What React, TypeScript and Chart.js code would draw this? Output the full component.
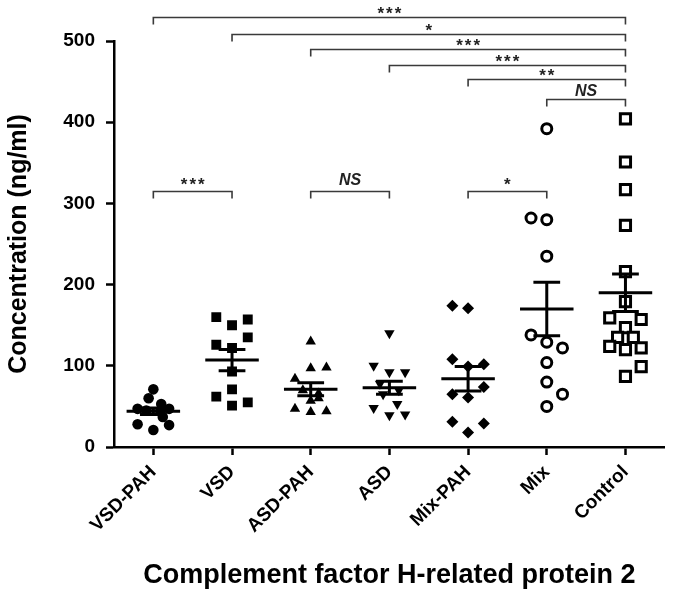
import { useEffect, useRef } from 'react';
import { Chart, registerables } from 'chart.js';

Chart.register(...registerables);

const categories = ['VSD-PAH', 'VSD', 'ASD-PAH', 'ASD', 'Mix-PAH', 'Mix', 'Control'];

const vsdPahValues = [71, 60, 53, 47, 47, 45, 44, 37, 28, 27, 21];
const vsdPahJitter = [0, -0.06, 0.1, -0.2, 0.2, -0.09, 0.09, 0.12, -0.2, 0.2, 0];

const vsdValues = [160, 157, 150, 135, 126, 122, 93, 71, 62, 55, 51];
const vsdJitter = [-0.2, 0.2, 0, 0.2, -0.2, 0, 0, 0, -0.2, 0.2, 0];

const asdPahValues = [130, 97, 98, 84, 70, 66, 60, 57, 47, 44, 43];
const asdPahJitter = [0, 0, 0.2, -0.2, -0.1, 0.1, 0.1, 0, -0.2, 0.2, 0];

const asdValues = [140, 100, 92, 92, 78, 70, 65, 53, 48, 39, 40];
const asdJitter = [0, -0.2, 0, 0.2, -0.12, 0.12, -0.08, 0.1, -0.2, 0, 0.2];

const mixPahValues = [174, 171, 108, 102, 99, 74, 65, 61, 31, 29, 18];
const mixPahJitter = [-0.2, 0, -0.2, 0.2, 0, 0.2, -0.2, 0, -0.2, 0.2, 0];

const mixValues = [392, 282, 280, 235, 138, 129, 122, 104, 80, 65, 50];
const mixJitter = [0, -0.2, 0, 0, -0.2, 0, 0.2, 0, 0, 0.2, 0];

const controlValues = [404, 351, 317, 273, 216, 179, 159, 157, 147, 135, 135, 124, 122, 120, 99, 87];
const controlJitter = [0, 0, 0, 0, 0, 0, -0.2, 0.2, 0, -0.1, 0.1, -0.2, 0.2, 0, 0.2, 0];

const means = [44, 107, 71, 73, 84, 170, 190];
const sems = [4, 13, 8, 8, 15, 33, 23];

const bracketFrom = [0, 1, 2, 3, 4, 5, 0, 2, 4];
const bracketTo = [6, 6, 6, 6, 6, 6, 1, 3, 5];
const bracketLevel = [529, 509, 490, 471, 453, 429, 315, 315, 315];
const bracketLabel = ['***', '*', '***', '***', '**', 'NS', '***', 'NS', '*'];
const bracketLabelLift = [1, 1, 1, 1, 1, 0, 4, 3, 4];

const yTicks = [0, 100, 200, 300, 400, 500];

const FONT = '"Liberation Sans", Arial, Helvetica, sans-serif';

const groups = [
  { values: vsdPahValues, jitter: vsdPahJitter, style: 'circle', radius: 5.3, fill: '#000', border: 0 },
  { values: vsdValues, jitter: vsdJitter, style: 'rect', radius: 7, fill: '#000', border: 0 },
  { values: asdPahValues, jitter: asdPahJitter, style: 'triangle', radius: 6, fill: '#000', border: 0, rotation: 0 },
  { values: asdValues, jitter: asdJitter, style: 'triangle', radius: 6, fill: '#000', border: 0, rotation: 180 },
  { values: mixPahValues, jitter: mixPahJitter, style: 'rectRot', radius: 6, fill: '#000', border: 0 },
  { values: mixValues, jitter: mixJitter, style: 'circle', radius: 5, fill: '#fff', border: 3 },
  { values: controlValues, jitter: controlJitter, style: 'rect', radius: 7.2, fill: '#fff', border: 3 },
];

const statsPlugin = {
  id: 'meanSem',
  afterDatasetsDraw(chart: any) {
    const { ctx, scales } = chart;
    const x = scales.x;
    const y = scales.y;
    ctx.save();
    ctx.strokeStyle = '#000';
    ctx.lineWidth = 3;
    means.forEach((m, i) => {
      const cx = x.getPixelForValue(i);
      const half = x.getPixelForValue(i + 0.34) - cx;
      const cap = x.getPixelForValue(i + 0.17) - cx;
      const ym = y.getPixelForValue(m);
      const yt = y.getPixelForValue(m + sems[i]);
      const yb = y.getPixelForValue(m - sems[i]);
      ctx.beginPath();
      ctx.moveTo(cx - half, ym);
      ctx.lineTo(cx + half, ym);
      ctx.moveTo(cx, yt);
      ctx.lineTo(cx, yb);
      ctx.moveTo(cx - cap, yt);
      ctx.lineTo(cx + cap, yt);
      ctx.moveTo(cx - cap, yb);
      ctx.lineTo(cx + cap, yb);
      ctx.stroke();
    });
    ctx.restore();
  },
};

const bracketPlugin = {
  id: 'brackets',
  afterDraw(chart: any) {
    const { ctx, scales } = chart;
    const x = scales.x;
    const y = scales.y;
    ctx.save();
    bracketLevel.forEach((lv, i) => {
      const x1 = x.getPixelForValue(bracketFrom[i]);
      const x2 = x.getPixelForValue(bracketTo[i]);
      const yy = Math.round(y.getPixelForValue(lv)) + 0.5;
      ctx.strokeStyle = '#3a3a3a';
      ctx.lineWidth = 1.6;
      ctx.beginPath();
      ctx.moveTo(x1, yy + 7);
      ctx.lineTo(x1, yy);
      ctx.lineTo(x2, yy);
      ctx.lineTo(x2, yy + 7);
      ctx.stroke();
      const label = bracketLabel[i];
      const lift = bracketLabelLift[i];
      ctx.fillStyle = '#222';
      ctx.textAlign = 'center';
      ctx.textBaseline = 'alphabetic';
      if (label === 'NS') {
        (ctx as any).letterSpacing = '0px';
        ctx.font = 'italic bold 16px ' + FONT;
        ctx.fillText(label, (x1 + x2) / 2, yy - 4 - lift);
      } else {
        (ctx as any).letterSpacing = '2px';
        ctx.font = 'bold 17px ' + FONT;
        ctx.fillText(label, (x1 + x2) / 2 + 1, yy + 2 - lift);
      }
    });
    ctx.restore();
  },
};

export default function App() {
  const canvasRef = useRef<HTMLCanvasElement | null>(null);

  useEffect(() => {
    const canvas = canvasRef.current;
    if (!canvas) return;
    const datasets = groups.map((g, gi) => ({
      label: categories[gi],
      data: g.values.map((v, k) => ({ x: gi + g.jitter[k], y: v })),
      pointStyle: g.style,
      pointRadius: g.radius,
      pointHoverRadius: g.radius,
      pointRotation: (g as any).rotation || 0,
      backgroundColor: g.fill,
      borderColor: '#000',
      pointBorderWidth: g.border,
      borderWidth: g.border,
      showLine: false,
    }));

    const chart = new Chart(canvas, {
      type: 'scatter',
      data: { datasets },
      plugins: [statsPlugin, bracketPlugin],
      options: {
        animation: false,
        responsive: false,
        maintainAspectRatio: false,
        layout: { padding: { top: 41, right: 7, left: 0, bottom: 0 } },
        plugins: {
          legend: { display: false },
          tooltip: { enabled: false },
        },
        scales: {
          x: {
            type: 'linear',
            min: -0.5,
            max: 6.5,
            afterBuildTicks(scale: any) {
              scale.ticks = categories.map((_, i) => ({ value: i }));
            },
            afterFit(scale: any) {
              scale.height = 147;
            },
            ticks: {
              autoSkip: false,
              minRotation: 45,
              maxRotation: 45,
              padding: 6,
              color: '#000',
              font: { family: FONT, size: 19, weight: 'bold' },
              callback: (v: any) => categories[Math.round(Number(v))] ?? '',
            },
            grid: {
              display: true,
              drawOnChartArea: false,
              drawTicks: true,
              tickLength: 8,
              tickWidth: 2.5,
              tickColor: '#000',
              color: '#000',
            },
            border: { display: true, color: '#000', width: 2.5 },
            title: {
              display: true,
              text: 'Complement factor H-related protein 2',
              color: '#000',
              font: { family: FONT, size: 27, weight: 'bold' },
              padding: { top: 0, bottom: 2 },
            },
          },
          y: {
            type: 'linear',
            min: 0,
            max: 500,
            afterBuildTicks(scale: any) {
              scale.ticks = yTicks.map((v) => ({ value: v }));
            },
            afterFit(scale: any) {
              scale.width = 114;
            },
            ticks: {
              padding: 11,
              color: '#000',
              font: { family: FONT, size: 19, weight: 'bold' },
            },
            grid: {
              display: true,
              drawOnChartArea: false,
              drawTicks: true,
              tickLength: 8,
              tickWidth: 2.5,
              tickColor: '#000',
              color: '#000',
            },
            border: { display: true, color: '#000', width: 2.5 },
            title: {
              display: true,
              text: 'Concentration (ng/ml)',
              color: '#000',
              font: { family: FONT, size: 25, weight: 'bold' },
              padding: { top: 4, bottom: 0 },
            },
          },
        },
      } as any,
    });
    return () => chart.destroy();
  }, []);

  return (
    <div style={{ position: 'fixed', left: 0, top: 0, width: 675, height: 594, background: '#fff' }}>
      <canvas ref={canvasRef} width={675} height={594} style={{ display: 'block', width: 675, height: 594 }} />
    </div>
  );
}
